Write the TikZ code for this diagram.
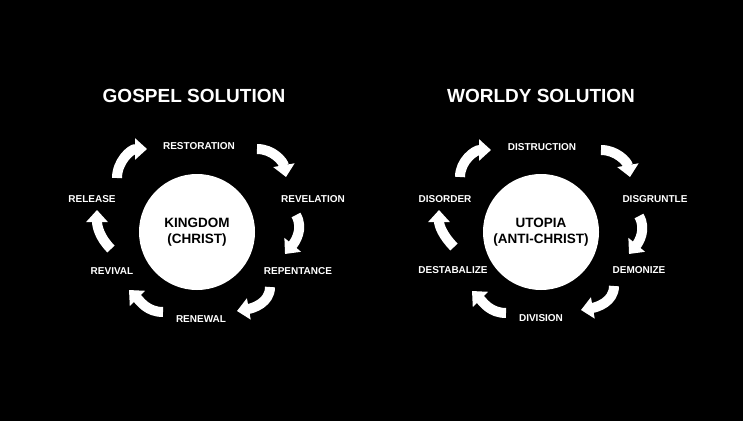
\documentclass[tikz,border=0pt]{standalone}
\usepackage{fontspec}
\setmainfont{Liberation Sans}
\usetikzlibrary{arrows.meta}

\tikzset{
  title/.style={text=white, font=\bfseries\fontsize{19}{22}\selectfont},
  lbl/.style={text=white, font=\bfseries\fontsize{10}{12}\selectfont},
  hub/.style={circle, fill=white, minimum size=116pt, inner sep=0pt, align=center,
    font=\bfseries\fontsize{13.5}{16}\selectfont},
  cyc/.style={white, line width=10pt, -{Triangle[width=21pt,length=12pt]}}
}

\begin{document}
\begin{tikzpicture}[x=1pt, y=1pt]
\fill [black] (0,0) rectangle (743,421);

% gospel side
\begin{scope}[shift={(197,189)}]
\node [title] (gtitle) at (-3, 136) {GOSPEL SOLUTION};
\node [hub] (kingdom) at (0, 0) {KINGDOM\\(CHRIST)};

\node [lbl] (restoration) at (2, 86) {RESTORATION};
\node [lbl] (revelation) at (116, 33) {REVELATION};
\node [lbl] (repentance) at (101, -39) {REPENTANCE};
\node [lbl] (renewal) at (4, -87) {RENEWAL};
\node [lbl] (revival) at (-85, -39) {REVIVAL};
\node [lbl] (release) at (-105, 33) {RELEASE};

\coordinate (ga1) at (-80, 54);  \coordinate (gb1) at (-50, 83);
\coordinate (ga2) at (60, 83);   \coordinate (gb2) at (89, 55);
\coordinate (ga3) at (99, 17);   \coordinate (gb3) at (88, -22);
\coordinate (ga4) at (73, -55);  \coordinate (gb4) at (40, -79);
\coordinate (ga5) at (-34, -80); \coordinate (gb5) at (-68, -58);
\coordinate (ga6) at (-86, -17); \coordinate (gb6) at (-100, 22);

\draw [cyc] (ga1) to [out=90, in=180] (gb1);
\draw [cyc] (ga2) to [out=0, in=100] (gb2);
\draw [cyc] (ga3) to [out=-60, in=50] (gb3);
\draw [cyc] (ga4) to [out=-90, in=10] (gb4);
\draw [cyc] (ga5) to [out=180, in=-45] (gb5);
\draw [cyc] (ga6) to [out=135, in=-90] (gb6);
\end{scope}

% worldly side
\begin{scope}[shift={(541,189)}]
\node [title] (wtitle) at (0, 136) {WORLDY SOLUTION};
\node [hub] (utopia) at (0, 0) {UTOPIA\\(ANTI-CHRIST)};

\node [lbl] (distruction) at (1, 85) {DISTRUCTION};
\node [lbl] (disgruntle) at (114, 33) {DISGRUNTLE};
\node [lbl] (demonize) at (98, -38) {DEMONIZE};
\node [lbl] (division) at (0, -86) {DIVISION};
\node [lbl] (destabalize) at (-88, -38) {DESTABALIZE};
\node [lbl] (disorder) at (-96, 33) {DISORDER};

\coordinate (wa1) at (-81, 55);  \coordinate (wb1) at (-50, 82);
\coordinate (wa2) at (60, 82);   \coordinate (wb2) at (89, 55);
\coordinate (wa3) at (98, 16);   \coordinate (wb3) at (88, -22);
\coordinate (wa4) at (73, -54);  \coordinate (wb4) at (40, -78);
\coordinate (wa5) at (-35, -81); \coordinate (wb5) at (-69, -59);
\coordinate (wa6) at (-87, -15); \coordinate (wb6) at (-102, 22);

\draw [cyc] (wa1) to [out=90, in=180] (wb1);
\draw [cyc] (wa2) to [out=0, in=100] (wb2);
\draw [cyc] (wa3) to [out=-60, in=50] (wb3);
\draw [cyc] (wa4) to [out=-90, in=10] (wb4);
\draw [cyc] (wa5) to [out=180, in=-45] (wb5);
\draw [cyc] (wa6) to [out=135, in=-90] (wb6);
\end{scope}
\end{tikzpicture}
\end{document}
